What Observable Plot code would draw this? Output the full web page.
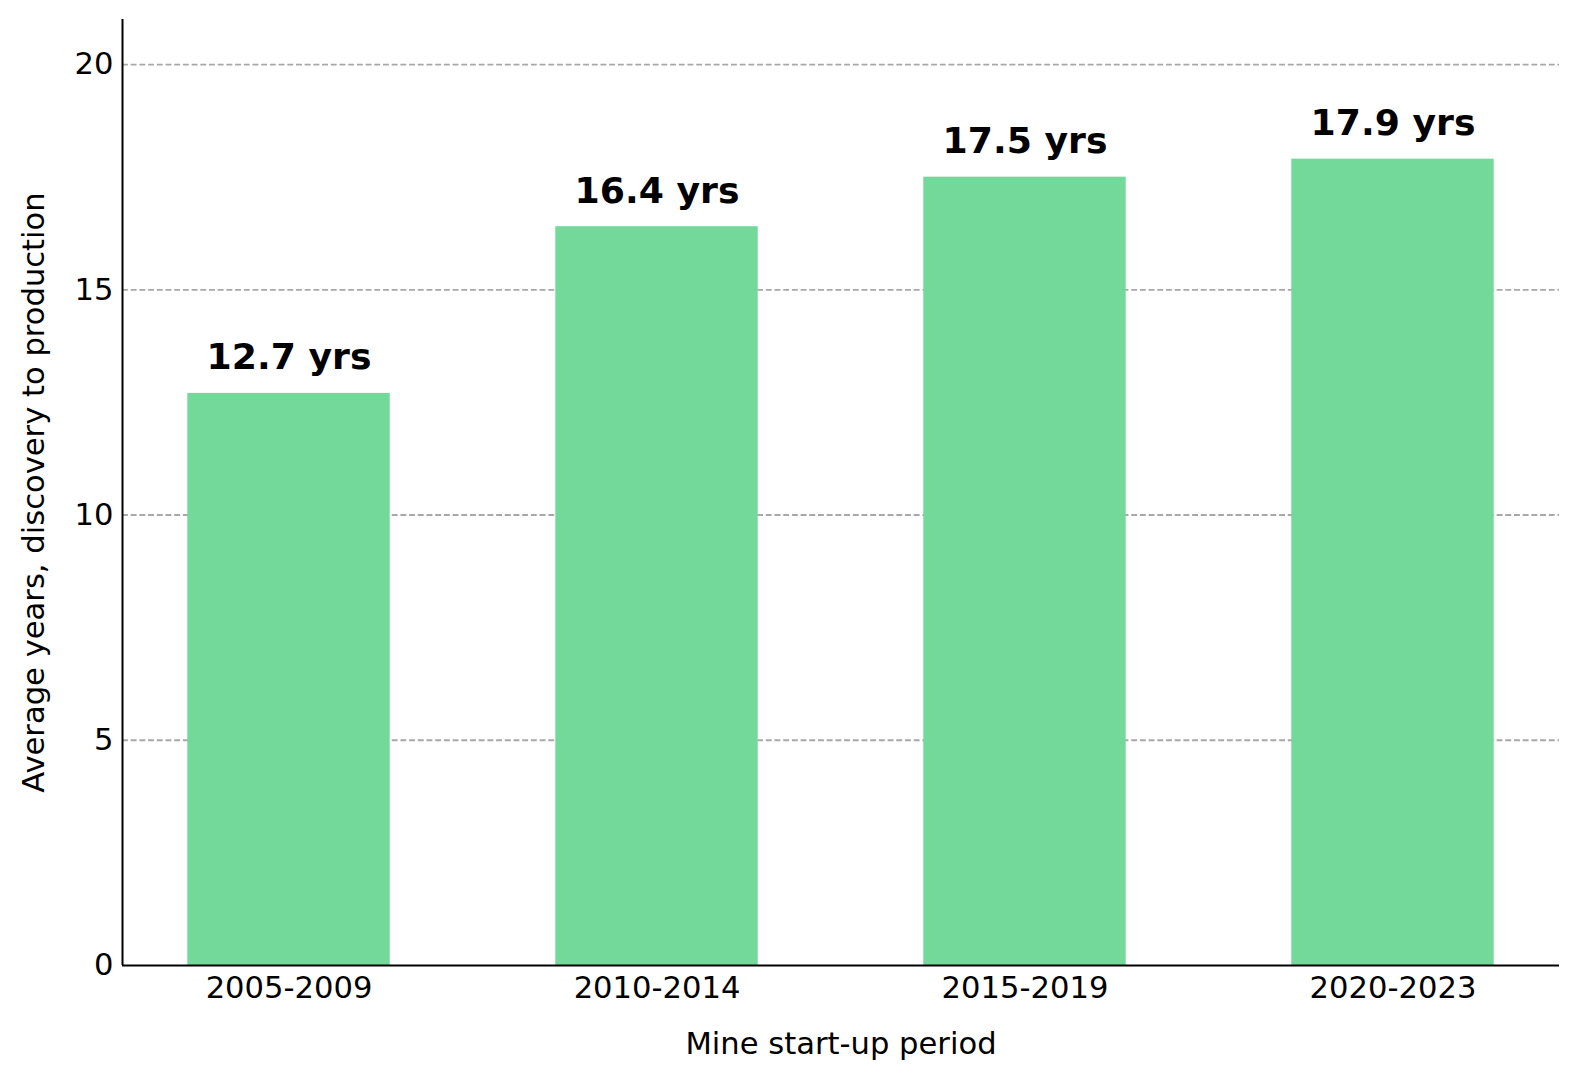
<!DOCTYPE html>
<html>
<head>
<meta charset="utf-8">
<script src="https://cdn.jsdelivr.net/npm/d3@7"></script>
<script src="https://cdn.jsdelivr.net/npm/@observablehq/plot@0.6"></script>
<style>
  html, body { margin: 0; padding: 0; background: #fff; }
  #chart { width: 1580px; height: 1080px; }
</style>
</head>
<body>
<div id="chart"></div>
<script>
const periods = ["2005-2009", "2010-2014", "2015-2019", "2020-2023"];
const avgYears = [12.7, 16.4, 17.5, 17.9];
const yTicks = [0, 5, 10, 15, 20];
const xLabel = "Mine start-up period";
const yLabel = "Average years, discovery to production";

const data = periods.map((p, i) => ({i, period: p, value: avgYears[i]}));
const halfBar = 0.275;
const fs = 30.6;

const chart = Plot.plot({
  width: 1580,
  height: 1080,
  marginTop: 19,
  marginBottom: 115,
  marginLeft: 122,
  marginRight: 21,
  style: {fontFamily: "DejaVu Sans", fontSize: fs + "px", color: "#000", background: "#fff"},
  x: {type: "linear", domain: [-0.4525, periods.length - 1 + 0.4525]},
  y: {domain: [0, 21]},
  marks: [
    Plot.gridY(yTicks.filter(t => t > 0), {stroke: "#a8a8a8", strokeOpacity: 1, strokeWidth: 1.8, strokeDasharray: "5.9,2.8"}),
    Plot.rectY(data, {x1: d => d.i - halfBar, x2: d => d.i + halfBar, y1: 0, y2: "value", fill: "#72d99a"}),
    Plot.ruleY([0], {stroke: "#000", strokeWidth: 2}),
    Plot.ruleX([-0.4525], {stroke: "#000", strokeWidth: 2}),
    Plot.text(data, {x: "i", y: "value", text: d => `${d.value} yrs`, dy: -24, lineAnchor: "bottom", textAnchor: "middle", fontWeight: "bold", fontSize: 36.2, fill: "#000"}),
    Plot.axisY({ticks: yTicks, tickSize: 0, tickPadding: 9, label: null, fontSize: fs}),
    Plot.axisX({ticks: data.map(d => d.i), tickFormat: i => periods[i], tickSize: 0, tickPadding: 11, label: null, fontSize: fs}),
    Plot.text([xLabel], {frameAnchor: "bottom", dy: 88, lineAnchor: "bottom", textAnchor: "middle", fontSize: fs, fill: "#000"}),
    Plot.text([yLabel], {frameAnchor: "left", rotate: -90, dx: -79, lineAnchor: "bottom", textAnchor: "middle", fontSize: fs, fill: "#000"})
  ]
});
document.getElementById("chart").appendChild(chart);
</script>
</body>
</html>
